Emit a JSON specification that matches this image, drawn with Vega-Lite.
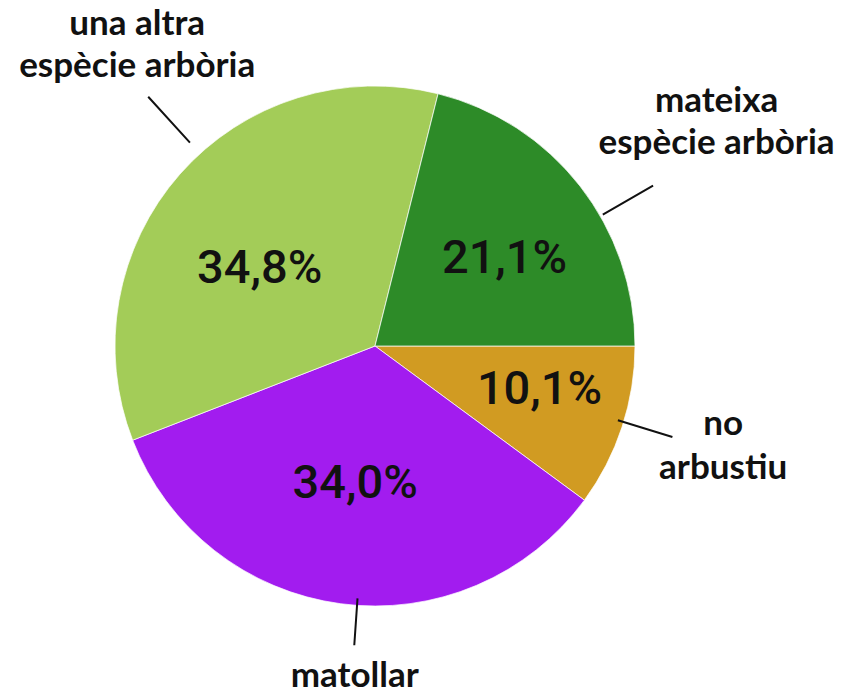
{
  "$schema": "https://vega.github.io/schema/vega-lite/v6.json",
  "width": 520,
  "height": 520,
  "autosize": {"type": "none"},
  "padding": {"left": 115, "top": 86, "right": 209, "bottom": 89},
  "background": "#ffffff",
  "config": {"view": {"stroke": null}},
  "data": {
    "values": [
      {"category": "no arbustiu", "value": 10.1, "order": 1, "pct": "10,1%", "label": ["no", "arbustiu"]},
      {"category": "matollar", "value": 34.0, "order": 2, "pct": "34,0%", "label": ["matollar"]},
      {"category": "una altra espècie arbòria", "value": 34.8, "order": 3, "pct": "34,8%", "label": ["una altra", "espècie arbòria"]},
      {"category": "mateixa espècie arbòria", "value": 21.1, "order": 4, "pct": "21,1%", "label": ["mateixa", "espècie arbòria"]}
    ]
  },
  "transform": [
    {"stack": "value", "groupby": [], "sort": [{"field": "order", "order": "ascending"}], "as": ["v0", "v1"]},
    {"calculate": "(datum.v0 + datum.v1) / 2", "as": "mid"}
  ],
  "layer": [
    {
      "mark": {"type": "arc", "radius": 260, "stroke": "#ffffff", "strokeWidth": 1, "strokeOpacity": 0.7},
      "encoding": {
        "theta": {"field": "v0", "type": "quantitative", "scale": {"domain": [0, 100], "range": [1.5707963, 7.8539816]}},
        "theta2": {"field": "v1"},
        "color": {
          "field": "category", "type": "nominal", "legend": null,
          "scale": {
            "domain": ["no arbustiu", "matollar", "una altra espècie arbòria", "mateixa espècie arbòria"],
            "range": ["#d19b22", "#a21cef", "#a3cc58", "#2d8b28"]
          }
        }
      }
    },
    {
      "transform": [{"filter": "datum.category === 'no arbustiu'"}],
      "mark": {"type": "text", "radius": 170, "dx": 3, "dy": -9, "font": "Roboto", "fontWeight": 500, "fontSize": 47, "align": "center", "baseline": "middle", "color": "#111111"},
      "encoding": {"theta": {"field": "mid", "type": "quantitative"}, "text": {"field": "pct"}}
    },
    {
      "transform": [{"filter": "datum.category === 'matollar'"}],
      "mark": {"type": "text", "radius": 136, "dx": -2, "dy": 3, "font": "Roboto", "fontWeight": 500, "fontSize": 47, "align": "center", "baseline": "middle", "color": "#111111"},
      "encoding": {"theta": {"field": "mid", "type": "quantitative"}, "text": {"field": "pct"}}
    },
    {
      "transform": [{"filter": "datum.category === 'una altra espècie arbòria'"}],
      "mark": {"type": "text", "radius": 139, "dx": -11, "dy": 15, "font": "Roboto", "fontWeight": 500, "fontSize": 47, "align": "center", "baseline": "middle", "color": "#111111"},
      "encoding": {"theta": {"field": "mid", "type": "quantitative"}, "text": {"field": "pct"}}
    },
    {
      "transform": [{"filter": "datum.category === 'mateixa espècie arbòria'"}],
      "mark": {"type": "text", "radius": 158, "dx": 5, "dy": 10, "font": "Roboto", "fontWeight": 500, "fontSize": 47, "align": "center", "baseline": "middle", "color": "#111111"},
      "encoding": {"theta": {"field": "mid", "type": "quantitative"}, "text": {"field": "pct"}}
    },
    {
      "transform": [{"filter": "datum.category === 'no arbustiu'"}],
      "mark": {"type": "text", "radius": 358, "dx": 8, "dy": -23, "font": "Lato", "fontWeight": "bold", "fontSize": 35, "lineHeight": 44, "align": "center", "baseline": "alphabetic", "color": "#111111"},
      "encoding": {"theta": {"field": "mid", "type": "quantitative"}, "text": {"field": "label"}}
    },
    {
      "transform": [{"filter": "datum.category === 'matollar'"}],
      "mark": {"type": "text", "radius": 344, "dx": 25, "dy": 0, "font": "Lato", "fontWeight": "bold", "fontSize": 35, "lineHeight": 42, "align": "center", "baseline": "alphabetic", "color": "#111111"},
      "encoding": {"theta": {"field": "mid", "type": "quantitative"}, "text": {"field": "label"}}
    },
    {
      "transform": [{"filter": "datum.category === 'una altra espècie arbòria'"}],
      "mark": {"type": "text", "radius": 385, "dx": 51, "dy": -56, "font": "Lato", "fontWeight": "bold", "fontSize": 35, "lineHeight": 42, "align": "center", "baseline": "alphabetic", "color": "#111111"},
      "encoding": {"theta": {"field": "mid", "type": "quantitative"}, "text": {"field": "label"}}
    },
    {
      "transform": [{"filter": "datum.category === 'mateixa espècie arbòria'"}],
      "mark": {"type": "text", "radius": 413, "dx": 16, "dy": 20, "font": "Lato", "fontWeight": "bold", "fontSize": 35, "lineHeight": 42, "align": "center", "baseline": "alphabetic", "color": "#111111"},
      "encoding": {"theta": {"field": "mid", "type": "quantitative"}, "text": {"field": "label"}}
    },
    {
      "transform": [{"filter": "datum.category === 'no arbustiu'"}],
      "mark": {"type": "arc", "radius": 311, "radius2": 254, "thetaOffset": -0.0206, "theta2Offset": -0.0206, "fill": "transparent", "stroke": "#111111", "strokeWidth": 2},
      "encoding": {"theta": {"field": "mid", "type": "quantitative"}, "theta2": {"field": "mid"}}
    },
    {
      "transform": [{"filter": "datum.category === 'matollar'"}],
      "mark": {"type": "arc", "radius": 300, "radius2": 253, "thetaOffset": -0.0628, "theta2Offset": -0.0628, "fill": "transparent", "stroke": "#111111", "strokeWidth": 2},
      "encoding": {"theta": {"field": "mid", "type": "quantitative"}, "theta2": {"field": "mid"}}
    },
    {
      "transform": [{"filter": "datum.category === 'una altra espècie arbòria'"}],
      "mark": {"type": "arc", "radius": 337, "radius2": 275, "thetaOffset": 0.110, "theta2Offset": 0.110, "fill": "transparent", "stroke": "#111111", "strokeWidth": 2},
      "encoding": {"theta": {"field": "mid", "type": "quantitative"}, "theta2": {"field": "mid"}}
    },
    {
      "transform": [{"filter": "datum.category === 'mateixa espècie arbòria'"}],
      "mark": {"type": "arc", "radius": 321, "radius2": 263, "thetaOffset": 0.1396, "theta2Offset": 0.1396, "fill": "transparent", "stroke": "#111111", "strokeWidth": 2},
      "encoding": {"theta": {"field": "mid", "type": "quantitative"}, "theta2": {"field": "mid"}}
    }
  ]
}
